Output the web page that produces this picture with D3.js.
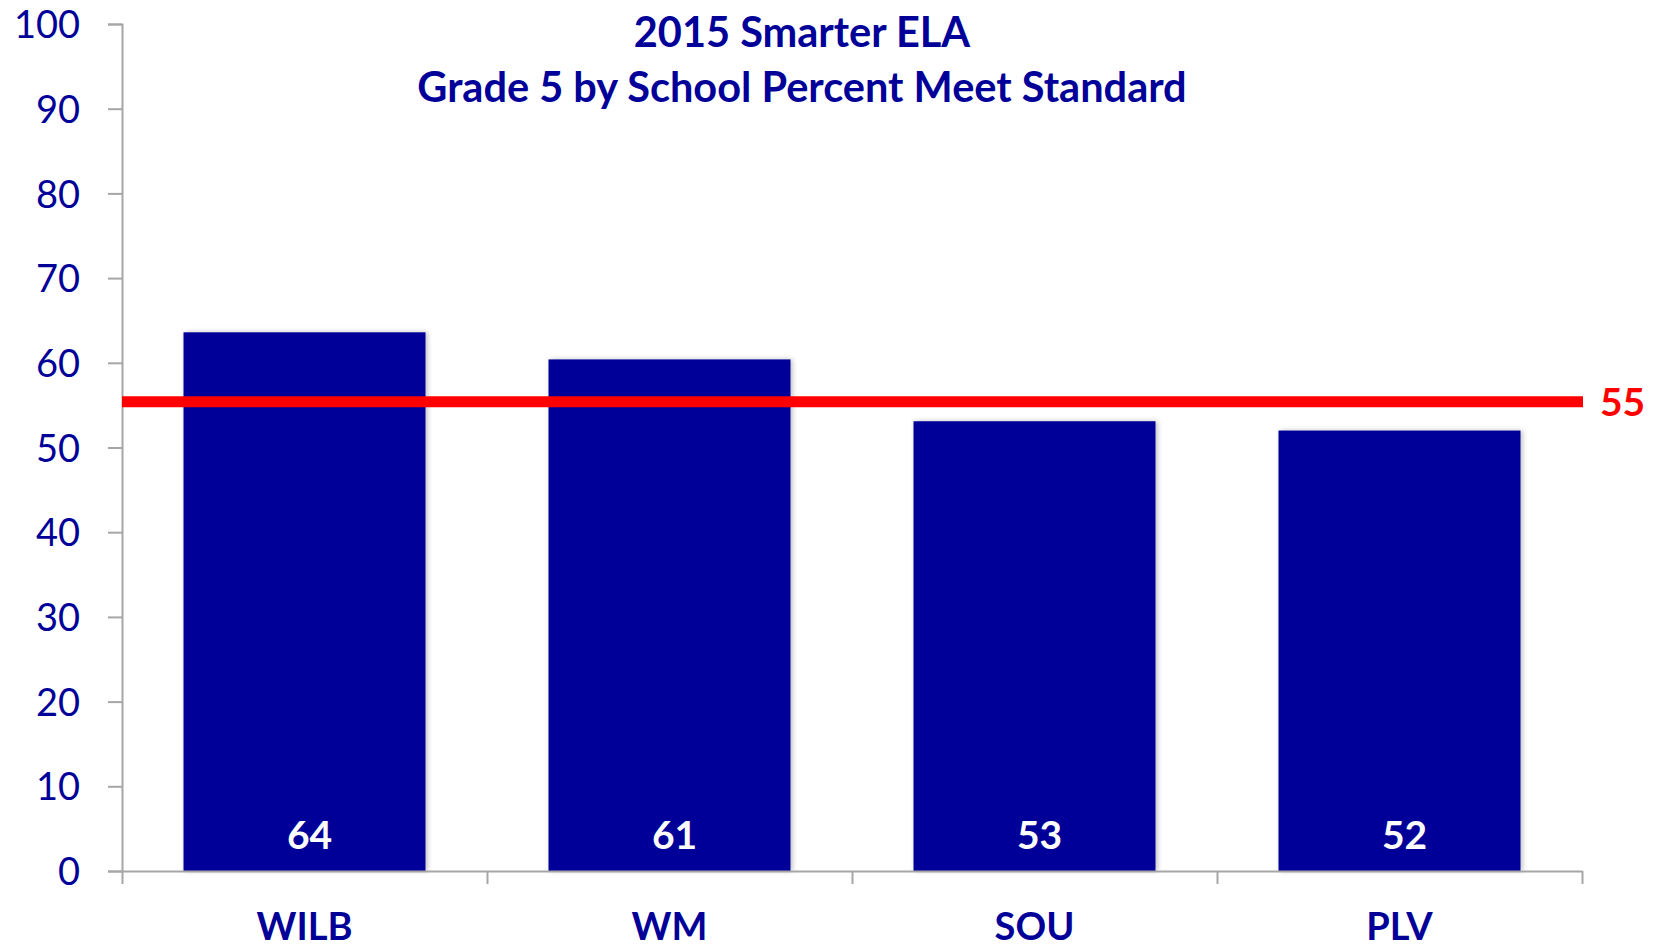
<!DOCTYPE html>
<html>
<head>
<meta charset="utf-8">
<script src="https://cdn.jsdelivr.net/npm/d3@7"></script>
<style>
  html, body { margin: 0; padding: 0; background: #fff; }
  svg { display: block; font-family: Lato, "Open Sans", sans-serif; }
</style>
</head>
<body>
<div id="app"></div>
<script>
/////////DATA///////////
const schools = ['WILB', 'WM', 'SOU', 'PLV'];
const pctMeet = [63.6, 60.4, 53.1, 52.0];
const barLabels = ['64', '61', '53', '52'];
const stateAvg = 55.4;
const stateLabel = '55';
const yTicks = [0, 10, 20, 30, 40, 50, 60, 70, 80, 90, 100];
const titleLines = ['2015 Smarter ELA', 'Grade 5 by School Percent Meet Standard'];

const data = schools.map((s, i) => ({ school: s, value: pctMeet[i], label: barLabels[i] }));

/////////SVG///////////
const w = 1656, h = 947;
const blue = '#000099';
const gray = '#a6a6a6';

const svg = d3.select('#app')
  .append('svg')
  .attr('width', w)
  .attr('height', h);

const defs = svg.append('defs');
defs.append('filter')
  .attr('id', 'shadow')
  .attr('x', '-5%').attr('y', '-5%').attr('width', '110%').attr('height', '110%')
  .append('feDropShadow')
  .attr('dx', 2).attr('dy', 0)
  .attr('stdDeviation', 2.5)
  .attr('flood-color', '#000')
  .attr('flood-opacity', 0.25);

const plotLeft = 122, plotRight = 1582, plotTop = 24, plotBottom = 871;

/////////SCALES///////////
const xScale = d3.scaleBand()
  .domain(schools)
  .range([plotLeft, plotRight])
  .paddingInner(0.337)
  .paddingOuter(0.1685);

const yScale = d3.scaleLinear()
  .domain([0, 100])
  .range([plotBottom, plotTop]);

/////////AXES///////////
const yAxis = d3.axisLeft(yScale).tickValues(yTicks).tickSize(14).tickSizeOuter(14).tickPadding(28);

const gy = svg.append('g')
  .attr('transform', 'translate(' + plotLeft + ',0)')
  .call(yAxis);
gy.select('.domain').attr('stroke', gray).attr('stroke-width', 2);
gy.selectAll('.tick line').attr('stroke', gray).attr('stroke-width', 2);
gy.selectAll('.tick text')
  .attr('fill', blue)
  .style('font-size', '38px')
  .style('font-family', 'Lato, sans-serif')
  .attr('dy', '0.36em');

/////////BARS///////////
svg.selectAll('rect.bar')
  .data(data)
  .enter()
  .append('rect')
  .attr('class', 'bar')
  .attr('x', (d) => xScale(d.school))
  .attr('y', (d) => yScale(d.value))
  .attr('width', xScale.bandwidth())
  .attr('height', (d) => yScale(0) - yScale(d.value))
  .attr('fill', blue)
  .attr('filter', 'url(#shadow)');

svg.selectAll('text.val')
  .data(data)
  .enter()
  .append('text')
  .attr('class', 'val')
  .attr('x', (d) => xScale(d.school) + xScale.bandwidth() / 2 + 5)
  .attr('y', yScale(0) - 22)
  .attr('text-anchor', 'middle')
  .attr('fill', '#fff')
  .style('font-weight', 'bold')
  .style('font-size', '39px')
  .text((d) => d.label);

// x axis with ticks between categories
const xEdge = d3.scaleLinear().domain([0, schools.length]).range([plotLeft, plotRight]);
const xAxis = d3.axisBottom(xEdge)
  .tickValues(d3.range(schools.length + 1))
  .tickSize(13)
  .tickSizeOuter(0)
  .tickFormat('');

const gx = svg.append('g')
  .attr('transform', 'translate(0,' + plotBottom + ')')
  .call(xAxis);
gx.select('.domain').attr('stroke', gray).attr('stroke-width', 2);
gx.selectAll('.tick line').attr('stroke', gray).attr('stroke-width', 2);

svg.selectAll('text.cat')
  .data(data)
  .enter()
  .append('text')
  .attr('class', 'cat')
  .attr('x', (d) => xScale(d.school) + xScale.bandwidth() / 2)
  .attr('y', 940)
  .attr('text-anchor', 'middle')
  .attr('fill', blue)
  .style('font-weight', 'bold')
  .style('font-size', '38px')
  .text((d) => d.school);

/////////STATE LINE///////////
svg.append('line')
  .attr('x1', plotLeft)
  .attr('x2', plotRight + 1)
  .attr('y1', yScale(stateAvg))
  .attr('y2', yScale(stateAvg))
  .attr('stroke', '#ff0000')
  .attr('stroke-width', 11);

svg.append('text')
  .attr('x', 1600)
  .attr('y', yScale(stateAvg))
  .attr('dy', '0.36em')
  .attr('fill', '#ff0000')
  .style('font-weight', 'bold')
  .style('font-size', '39px')
  .text(stateLabel);

/////////TITLE///////////
svg.selectAll('text.title')
  .data(titleLines)
  .enter()
  .append('text')
  .attr('class', 'title')
  .attr('x', 802)
  .attr('y', (d, i) => 47 + i * 55)
  .attr('text-anchor', 'middle')
  .attr('fill', blue)
  .style('font-weight', 'bold')
  .style('font-size', '41.5px')
  .text((d) => d);
</script>
</body>
</html>
